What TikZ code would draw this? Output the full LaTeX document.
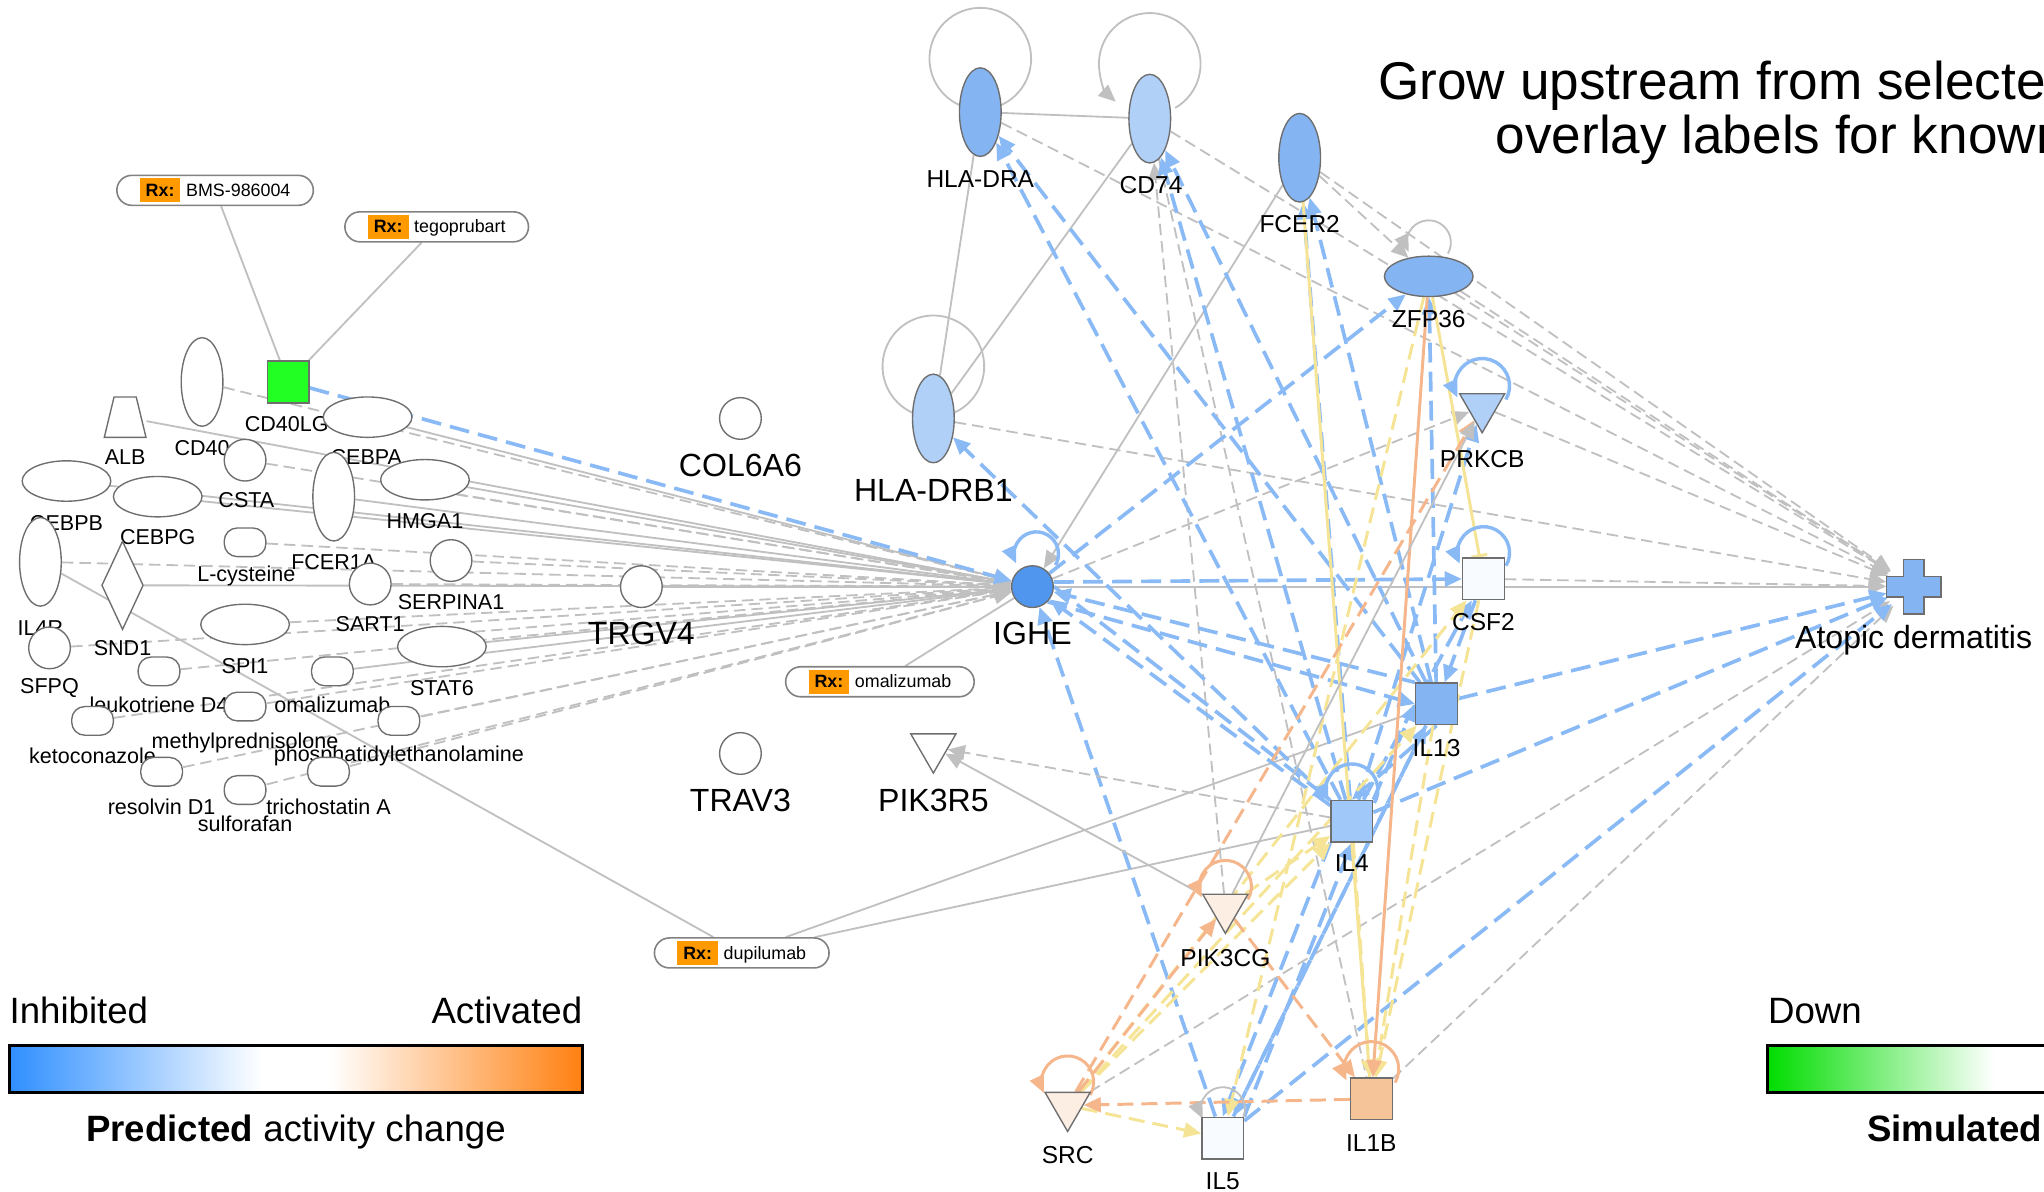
\documentclass[tikz,border=0pt]{standalone}
\usepackage{fontspec}
\setmainfont{Liberation Sans}
\usepackage{xcolor}
\usepackage{tikz}
\usetikzlibrary{arrows.meta,shapes.geometric}

\definecolor{edgegray}{RGB}{192,192,192}
\definecolor{edgeblue}{RGB}{138,186,245}
\definecolor{edgeyellow}{RGB}{246,228,150}
\definecolor{edgeorange}{RGB}{245,182,140}
\definecolor{nodeedge}{RGB}{110,110,110}
\definecolor{dkblue}{RGB}{80,150,238}
\definecolor{mdblue}{RGB}{132,181,242}
\definecolor{ltblue}{RGB}{176,208,248}
\definecolor{ilblue}{RGB}{160,200,248}
\definecolor{offwhite}{RGB}{248,251,255}
\definecolor{peach}{RGB}{253,238,228}
\definecolor{ilorange}{RGB}{245,196,152}
\definecolor{simgreen}{RGB}{34,255,34}
\definecolor{rxorange}{RGB}{255,153,0}
\definecolor{rxedge}{RGB}{130,130,130}
\definecolor{legblue}{RGB}{47,143,255}
\definecolor{legorange}{RGB}{255,128,16}
\definecolor{leggreen}{RGB}{0,221,0}

\pgfdeclarelayer{edges}
\pgfsetlayers{edges,main}

\pgfdeclarehorizontalshading{predbar}{100bp}{color(0bp)=(legblue); color(25bp)=(legblue); color(47bp)=(white); color(53bp)=(white); color(75bp)=(legorange); color(100bp)=(legorange)}

\newcommand{\rxtag}{{\setlength{\fboxsep}{2.6pt}\colorbox{rxorange}{\bfseries Rx:}}\hspace{2.5pt}}

\begin{document}
\begin{tikzpicture}[x=0.02cm,y=-0.02cm,>={Triangle[length=7.5pt,width=6.5pt]},
  every node/.style={inner sep=0pt},
  mol/.style={draw=nodeedge,line width=0.6pt,fill=white},
  vell/.style={mol,ellipse,minimum width=0.64cm,minimum height=1.36cm},
  hell/.style={mol,ellipse,minimum width=1.36cm,minimum height=0.62cm},
  circ/.style={mol,circle,minimum size=0.64cm},
  sq/.style={mol,rectangle,minimum size=0.64cm},
  pill/.style={mol,rectangle,rounded corners=0.2cm,minimum width=0.64cm,minimum height=0.44cm},
  tri/.style={mol,regular polygon,regular polygon sides=3,shape border rotate=180,minimum size=0.8cm},
  rxbox/.style={draw=rxedge,line width=0.7pt,fill=white,rounded corners=0.23cm,minimum height=0.46cm,inner xsep=10pt,font=\fontsize{7.8}{9}\selectfont},
  lbl/.style={font=\fontsize{10.7}{12}\selectfont},
  biglbl/.style={font=\fontsize{14}{16}\selectfont},
  smlbl/.style={font=\fontsize{9.4}{11}\selectfont},
  legtext/.style={font=\fontsize{16}{18}\selectfont},
  titletext/.style={font=\fontsize{23.2}{27}\selectfont},
  gline/.style={draw=edgegray,line width=0.8pt},
  gdash/.style={gline,dash pattern=on 5pt off 2.6pt},
  bdash/.style={draw=edgeblue,line width=1.6pt,dash pattern=on 8.7pt off 4pt},
  bline/.style={draw=edgeblue,line width=1.5pt},
  ydash/.style={draw=edgeyellow,line width=1.3pt,dash pattern=on 7pt off 3.5pt},
  yline/.style={draw=edgeyellow,line width=1.3pt},
  odash/.style={draw=edgeorange,line width=1.3pt,dash pattern=on 7pt off 3.5pt},
  oline/.style={draw=edgeorange,line width=1.3pt}]
\path[use as bounding box] (0,0) rectangle (1568,914);
\clip (0,0) rectangle (1568,914);

% title
\node[titletext,anchor=base west] (title1) at (1057,76) {Grow upstream from selected};
\node[titletext,anchor=base west] (title2) at (1147,118) {overlay labels for known};

% labels (drawn first, molecules may cover them)
\node[lbl] (t-hladra) at (752,137) {HLA-DRA};
\node[lbl] (t-cd74) at (883,142) {CD74};
\node[lbl] (t-fcer2) at (997,172) {FCER2};
\node[lbl] (t-zfp36) at (1096,245) {ZFP36};
\node[biglbl] (t-hladrb1) at (716,376) {HLA-DRB1};
\node[lbl] (t-prkcb) at (1137,352) {PRKCB};
\node[biglbl] (t-ighe) at (792,486) {IGHE};
\node[lbl] (t-csf2) at (1138,477) {CSF2};
\node[biglbl] (t-atopic) at (1468,491) {Atopic dermatitis};
\node[lbl] (t-il13) at (1102,574) {IL13};
\node[lbl] (t-il4) at (1037,662) {IL4};
\node[lbl] (t-pik3cg) at (940,735) {PIK3CG};
\node[lbl] (t-src) at (819,886) {SRC};
\node[lbl] (t-il5) at (938,906) {IL5};
\node[lbl] (t-il1b) at (1052,877) {IL1B};
\node[biglbl] (t-col6a6) at (568,357) {COL6A6};
\node[biglbl] (t-trgv4) at (492,486) {TRGV4};
\node[biglbl] (t-trav3) at (568,614) {TRAV3};
\node[biglbl] (t-pik3r5) at (716,614) {PIK3R5};

\node[smlbl] (t-cd40lg) at (220,325) {CD40LG};
\node[smlbl] (t-alb) at (96,351) {ALB};
\node[smlbl] (t-cd40) at (155,344) {CD40};
\node[smlbl] (t-cebpa) at (281,351) {CEBPA};
\node[smlbl] (t-csta) at (189,384) {CSTA};
\node[smlbl] (t-cebpb) at (51,401) {CEBPB};
\node[smlbl] (t-cebpg) at (121,412) {CEBPG};
\node[smlbl] (t-hmga1) at (326,400) {HMGA1};
\node[smlbl] (t-fcer1a) at (256,431) {FCER1A};
\node[smlbl] (t-lcys) at (189,442) {L-cysteine};
\node[smlbl] (t-il4r) at (31,482) {IL4R};
\node[smlbl] (t-snd1) at (94,497) {SND1};
\node[smlbl] (t-serpina1) at (346,462) {SERPINA1};
\node[smlbl] (t-sart1) at (284,479) {SART1};
\node[smlbl] (t-spi1) at (188,511) {SPI1};
\node[smlbl] (t-stat6) at (339,528) {STAT6};
\node[smlbl] (t-sfpq) at (38,528) {SFPQ};
\node[smlbl] (t-leuk) at (122,541) {leukotriene D4};
\node[smlbl] (t-omachem) at (255,541) {omalizumab};
\node[smlbl] (t-methyl) at (188,570) {methylprednisolone};
\node[smlbl] (t-keto) at (71,580) {ketoconazole};
\node[smlbl] (t-phos) at (306,580) {phosphatidylethanolamine};
\node[smlbl] (t-resolvin) at (124,619) {resolvin D1};
\node[smlbl] (t-tricho) at (252,619) {trichostatin A};
\node[smlbl] (t-sulfo) at (188,632) {sulforafan};

% molecules, right part
\node[vell,fill=mdblue] (hladra) at (752,86) {};
\node[vell,fill=ltblue] (cd74) at (882,91) {};
\node[vell,fill=mdblue] (fcer2) at (997,121) {};
\node[hell,fill=mdblue] (zfp36) at (1096,212) {};
\node[vell,fill=ltblue] (hladrb1) at (716,321) {};
\node[tri,fill=ltblue] (prkcb) at (1137,312) {};
\node[circ,fill=dkblue] (ighe) at (792,450) {};
\node[sq,fill=offwhite] (csf2) at (1138,444) {};
\node[circle,minimum size=0.84cm] (atopic) at (1468,450) {};
\node[sq,fill=mdblue] (il13) at (1102,540) {};
\node[sq,fill=ilblue] (il4) at (1037,630) {};
\node[tri,fill=peach] (pik3cg) at (940,696) {};
\node[tri,fill=peach] (src) at (819,848) {};
\node[sq,fill=offwhite] (il5) at (938,873) {};
\node[sq,fill=ilorange] (il1b) at (1052,843) {};
\node[circ] (col6a6) at (568,321) {};
\node[circ] (trgv4) at (492,450) {};
\node[circ] (trav3) at (568,578) {};
\node[tri] (pik3r5) at (716,573) {};
\filldraw[fill=mdblue,draw=nodeedge,line width=0.6pt] (1460,429) -- (1476,429) -- (1476,442) -- (1489,442) -- (1489,458) -- (1476,458)
  -- (1476,471) -- (1460,471) -- (1460,458) -- (1447,458) -- (1447,442) -- (1460,442) -- cycle;

% molecules, left part
\node[vell] (cd40) at (155,293) {};
\node[sq,fill=simgreen] (cd40lg) at (221,293) {};
\node[rectangle,minimum width=0.64cm,minimum height=0.62cm] (alb) at (96,320) {};
\filldraw[fill=white,draw=nodeedge,line width=0.6pt] (80,335.5) -- (112,335.5) -- (104.5,304.5) -- (87.5,304.5) -- cycle;
\node[hell] (cebpa) at (282,320) {};
\node[circ] (csta) at (188,353) {};
\node[hell] (cebpb) at (51,369) {};
\node[hell] (cebpg) at (121,381) {};
\node[vell] (fcer1a) at (256,381) {};
\node[hell] (hmga1) at (326,368) {};
\node[pill] (lcys) at (188,416) {};
\node[circ] (serpina1) at (346,430) {};
\node[vell] (il4r) at (31,431) {};
\node[mol,diamond,minimum width=0.64cm,minimum height=1.36cm] (snd1) at (94,449) {};
\node[circ] (sart1) at (284,448) {};
\node[hell] (spi1) at (188,479) {};
\node[hell] (stat6) at (339,496) {};
\node[circ] (sfpq) at (38,497) {};
\node[pill] (leuk) at (122,515) {};
\node[pill] (omachem) at (255,515) {};
\node[pill] (methyl) at (188,542) {};
\node[pill] (keto) at (71,553) {};
\node[pill] (phos) at (306,553) {};
\node[pill] (resolvin) at (124,592) {};
\node[pill] (tricho) at (252,592) {};
\node[pill] (sulfo) at (188,606) {};

% drug labels
\node[rxbox] (rxbms) at (165,146) {\rxtag BMS-986004};
\node[rxbox] (rxtego) at (335,174) {\rxtag tegoprubart};
\node[rxbox] (rxoma) at (675,523) {\rxtag omalizumab};
\node[rxbox] (rxdupi) at (569,731) {\rxtag dupilumab};

\begin{pgfonlayer}{edges}
% drugs to targets
\draw[gline] (rxbms) -- (cd40lg);
\draw[gline] (rxtego) -- (cd40lg);
\draw[gline] (rxoma) -- (ighe);
\draw[gline] (rxdupi) -- (il4r);
\draw[gline] (rxdupi) -- (il4);
\draw[gline] (rxdupi) -- (il13);

% left cluster into IGHE
\draw[gline,->] (alb) -- (ighe);
\draw[gline,->] (cebpb) -- (ighe);
\draw[gline,->] (cebpg) -- (ighe);
\draw[gline,->] (cebpa) -- (ighe);
\draw[gline,->] (hmga1) -- (ighe);
\draw[gline,->] (fcer1a) -- (ighe);
\draw[gline,->] (snd1) -- (ighe);
\draw[gline,->] (trgv4) -- (ighe);
\draw[gline,->] (stat6) -- (ighe);
\draw[gline,->] (omachem) -- (ighe);
\draw[gdash,->] (cd40) -- (ighe);
\draw[gdash,->] (csta) -- (ighe);
\draw[gdash,->] (lcys) -- (ighe);
\draw[gdash,->] (il4r) -- (ighe);
\draw[gdash,->] (serpina1) -- (ighe);
\draw[gdash,->] (sart1) -- (ighe);
\draw[gdash,->] (spi1) -- (ighe);
\draw[gdash,->] (sfpq) -- (ighe);
\draw[gdash,->] (leuk) -- (ighe);
\draw[gdash,->] (methyl) -- (ighe);
\draw[gdash,->] (keto) -- (ighe);
\draw[gdash,->] (phos) -- (ighe);
\draw[gdash,->] (resolvin) -- (ighe);
\draw[gdash,->] (tricho) -- (ighe);
\draw[gdash,->] (sulfo) -- (ighe);
\draw[gdash,->] (hmga1.south east) -- (ighe);
\draw[gdash,->] (stat6.north east) -- (ighe);
\draw[bdash,->] (cd40lg) -- (ighe);

% top cluster
\draw[gline] (hladra) -- (cd74);
\draw[gline] (hladra) -- (hladrb1);
\draw[gline] (cd74) -- (hladrb1);
\draw[gline,->] (fcer2) -- (ighe);
\draw[gdash,->] (fcer2) -- (zfp36);
\draw[gdash,->] (pik3cg) -- (cd74);
\draw[gdash] (cd74) -- (il1b);
\draw[gdash,->] (ighe) -- (prkcb);

% into atopic dermatitis
\draw[gdash,->] (hladra) -- (atopic);
\draw[gdash,->] (cd74) -- (atopic);
\draw[gdash,->] (fcer2) -- (atopic);
\draw[gdash,->] (zfp36) -- (atopic);
\draw[gdash,->] (zfp36.south east) -- (atopic);
\draw[gdash,->] (prkcb) -- (atopic);
\draw[gdash,->] (hladrb1) -- (atopic);
\draw[gdash,->] (csf2) -- (atopic);
\draw[gline,->] (ighe) -- (atopic);
\draw[gdash,->] (il1b) -- (atopic);
\draw[gdash,->] (src) -- (atopic);
\draw[bdash,->] (il13) -- (atopic);
\draw[bdash,->] (il4) -- (atopic);
\draw[bdash,->] (il5) -- (atopic);

% blue (inhibition) edges
\draw[bdash,->] (il4) -- (hladra);
\draw[bdash,->] (il13) -- (hladra);
\draw[bdash,->] (il4) -- (cd74);
\draw[bdash,->] (il13) -- (cd74);
\draw[bdash,->] (il4) -- (fcer2);
\draw[bdash,->] (il13) -- (fcer2);
\draw[bdash,->] (il4) -- (hladrb1);
\draw[bdash,->] (ighe) -- (zfp36);
\draw[bdash,->] (il13) -- (zfp36);
\draw[bdash,->] (il4) -- (prkcb);
\draw[bdash,->] ([yshift=2pt]ighe.east) -- (csf2);
\draw[bdash,->] (il4) -- (ighe);
\draw[bdash,->] (il13.north west) -- (ighe);
\draw[bdash,->] (il5) -- (ighe);
\draw[bdash,->] (ighe.south east) -- (il13.west);
\draw[bdash,->] (ighe.east) -- (il4.north west);
\draw[bdash,->] (il4.north east) -- (il13.west);
\draw[bdash,->] (il13.south) -- (il4.north);
\draw[bdash,->] (csf2) -- (il13);
\draw[bdash,->] (il4) -- (csf2);
\draw[bdash,->] (il5.north east) -- (il4.south);
\draw[bdash,->] (il5) -- (il13);
\draw[bdash,->] (il4.south west) -- (il5.north);
\draw[bdash,->] (il13) -- (il5);

% yellow and orange edges
\draw[yline] (fcer2) -- (il1b);
\draw[yline,-{Bar[width=7pt]}] (zfp36) -- (csf2);
\draw[ydash,->] (zfp36) -- (il5);
\draw[ydash,->] (src) -- (il4);
\draw[ydash,->] (src) -- (il13);
\draw[ydash,->] (src) -- (csf2);
\draw[ydash,->] (src) -- (il5);
\draw[ydash,->] (pik3cg) -- (il4);
\draw[ydash,->] (il13) -- (il1b);
\draw[ydash,->] (csf2) -- (il1b);
\draw[ydash,->] (il4) -- (il1b);
\draw[oline,->] (zfp36) -- (il1b);
\draw[odash,->] (il1b) -- (src);
\draw[odash,->] (pik3cg) -- (il1b);
\draw[odash,->] (src) -- (pik3cg);
\draw[odash,->] (src) -- (prkcb);

% gray edges, lower part
\draw[gline,->] (pik3cg) -- (pik3r5);
\draw[gdash,->] (il4) -- (pik3r5);
\draw[gline,->] (pik3cg) -- (prkcb);

% self loops
\draw[gline] ([yshift=0.82cm]hladra.center) ++(-75:0.78cm) arc[start angle=-75,end angle=255,radius=0.78cm];
\draw[gline,->] ([yshift=0.84cm]cd74.center) ++(-60:0.78cm) arc[start angle=-60,end angle=228,radius=0.78cm];
\draw[gline] ([yshift=0.8cm]hladrb1.center) ++(-75:0.78cm) arc[start angle=-75,end angle=255,radius=0.78cm];
\draw[gline,->] ([yshift=0.52cm]zfp36.center) ++(-30:0.34cm) arc[start angle=-30,end angle=205,radius=0.34cm];
\draw[bline,->] ([yshift=0.32cm]prkcb.center) ++(-30:0.42cm) arc[start angle=-30,end angle=205,radius=0.42cm];
\draw[bline,->] ([xshift=0.06cm,yshift=0.5cm]ighe.center) ++(-30:0.34cm) arc[start angle=-30,end angle=205,radius=0.34cm];
\draw[bline,->] ([yshift=0.4cm]csf2.center) ++(-30:0.4cm) arc[start angle=-30,end angle=205,radius=0.4cm];
\draw[bline,->] ([yshift=0.48cm]il4.center) ++(-30:0.4cm) arc[start angle=-30,end angle=205,radius=0.4cm];
\draw[oline,->] ([yshift=0.32cm]pik3cg.center) ++(-30:0.4cm) arc[start angle=-30,end angle=205,radius=0.4cm];
\draw[oline,->] ([yshift=0.36cm]src.center) ++(-30:0.4cm) arc[start angle=-30,end angle=205,radius=0.4cm];
\draw[gline,->] ([yshift=0.44cm]il5.center) ++(-30:0.34cm) arc[start angle=-30,end angle=205,radius=0.34cm];
\draw[oline,->] ([yshift=0.46cm]il1b.center) ++(-30:0.42cm) arc[start angle=-30,end angle=205,radius=0.42cm];
\end{pgfonlayer}

% legends
\node[legtext,anchor=base west] (inhib) at (7,785) {Inhibited};
\node[legtext,anchor=base east] (activ) at (447,785) {Activated};
\shade[shading=predbar] (7,802) rectangle (447,838);
\draw[line width=1.3pt] (7,802) rectangle (447,838);
\node[legtext,anchor=base] (predict) at (227,876) {\textbf{Predicted} activity change};
\node[legtext,anchor=base west] (down) at (1356,785) {Down};
\shade[left color=leggreen,right color=white] (1356,802) rectangle (1530,838);
\draw[line width=1.3pt] (1356,802) rectangle (1600,838);
\node[legtext,anchor=base west] (simul) at (1432,876) {\textbf{Simulated}};
\end{tikzpicture}
\end{document}
